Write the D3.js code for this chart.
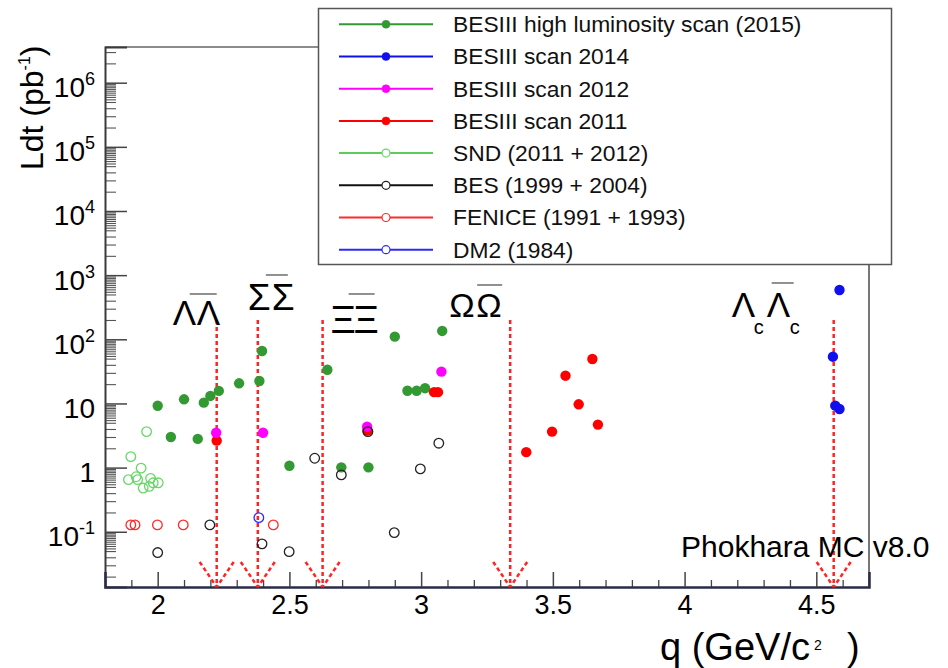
<!DOCTYPE html>
<html>
<head>
<meta charset="utf-8">
<script src="https://cdn.jsdelivr.net/npm/d3@7"></script>
<style>
  body { margin: 0; background: #fff; }
  svg { display: block; font-family: "Liberation Sans", Arial, Helvetica, sans-serif; }
</style>
</head>
<body>
<svg id="chart" width="948" height="668"></svg>
<script>
// ---- integrated luminosity (pb^-1) versus centre-of-mass energy q (GeV) ----

// BESIII high luminosity scan (2015)
const bes2015Q = [2.0, 2.05, 2.1, 2.152, 2.175, 2.2, 2.232, 2.309, 2.386, 2.396, 2.5, 2.644, 2.697, 2.8, 2.9, 2.948, 2.983, 3.015, 3.08];
const bes2015L = [9.2, 3.0, 11.6, 2.8, 10.3, 13.1, 15.7, 20.6, 22.4, 65.7, 1.07, 33.5, 1.01, 1.01, 110, 15.8, 15.8, 17.3, 135];

// BESIII scan 2014
const bes2014Q = [4.588, 4.563, 4.572, 4.588];
const bes2014L = [586, 53.6, 9.25, 8.2];

// BESIII scan 2012
const bes2012Q = [2.222, 2.4, 2.795, 3.077];
const bes2012L = [3.5, 3.5, 4.35, 31.3];

// BESIII scan 2011
const bes2011Q = [2.224, 2.796, 3.049, 3.064, 3.399, 3.497, 3.548, 3.598, 3.650, 3.671];
const bes2011L = [2.63, 3.77, 15.0, 15.0, 1.74, 3.64, 27.1, 9.7, 49.3, 4.68];

// SND (2011 + 2012)
const sndQ = [1.898, 1.937, 1.889, 1.918, 1.924, 1.945, 1.973, 1.968, 1.983, 2.002, 1.958];
const sndL = [1.48, 0.98, 0.65, 0.72, 0.65, 0.48, 0.68, 0.51, 0.58, 0.58, 3.64];

// BES (1999 + 2004)
const besQ = [2.0, 2.198, 2.396, 2.499, 2.596, 2.697, 2.798, 2.898, 2.997, 3.067];
const besL = [0.0474, 0.128, 0.0648, 0.049, 1.4, 0.77, 3.64, 0.097, 0.955, 2.4];

// FENICE (1991 + 1993)
const feniceQ = [1.898, 1.914, 1.999, 2.097, 2.439];
const feniceL = [0.128, 0.128, 0.128, 0.128, 0.128];

// DM2 (1984)
const dm2Q = [2.384];
const dm2L = [0.166];

// baryon-pair production thresholds
const thresholdQ = [2.224, 2.380, 2.626, 3.338, 4.566];
const thresholdTop = 200;

// axis ticks
const yMajorTicks = [0.1, 1, 10, 100, 1e3, 1e4, 1e5, 1e6];
const yMinorMantissas = [2, 3, 4, 5, 5.5, 6, 6.5, 7, 7.5, 8, 8.5, 9, 9.5];
const xMajorTicks = [2, 2.5, 3, 3.5, 4, 4.5];

// legend entries
const legendLabels = [
  "BESIII high luminosity scan (2015)",
  "BESIII scan 2014",
  "BESIII scan 2012",
  "BESIII scan 2011",
  "SND (2011 + 2012)",
  "BES (1999 + 2004)",
  "FENICE (1991 + 1993)",
  "DM2 (1984)"
];

// ---- drawing ----
const svg = d3.select("#chart");
const W = 948, H = 668;
svg.append("rect").attr("width", W).attr("height", H).attr("fill", "#fff");

const x = d3.scaleLinear().domain([1.8, 4.7]).range([105, 869]);
const y = d3.scaleLog().domain([0.01377, 3.6e6]).range([587, 47]);

// frame: top and right edges
svg.append("line").attr("x1", x.range()[0]).attr("x2", x.range()[1])
  .attr("y1", y.range()[1]).attr("y2", y.range()[1])
  .attr("stroke", "#666").attr("stroke-width", 1.5);
svg.append("line").attr("x1", x.range()[1]).attr("x2", x.range()[1])
  .attr("y1", y.range()[1]).attr("y2", y.range()[0])
  .attr("stroke", "#777").attr("stroke-width", 2);

// y minor ticks
const yMinor = [];
for (let e = -2; e <= 6; e++) {
  yMinorMantissas.forEach(m => {
    const v = m * Math.pow(10, e);
    if (v >= y.domain()[0] && v <= y.domain()[1]) yMinor.push(v);
  });
}
const gyMinor = svg.append("g").attr("transform", `translate(${x.range()[0]},0)`)
  .call(d3.axisLeft(y).tickValues(yMinor).tickSize(-11).tickFormat(""));
gyMinor.select(".domain").remove();
gyMinor.selectAll("line").attr("stroke", "#555").attr("stroke-width", 1.1);

// y major ticks + labels
const gy = svg.append("g").attr("transform", `translate(${x.range()[0]},0)`)
  .call(d3.axisLeft(y).tickValues(yMajorTicks).tickSize(-22).tickPadding(10).tickFormat(""));
gy.select(".domain").attr("stroke", "#3a3a3a").attr("stroke-width", 2);
gy.selectAll(".tick line").attr("stroke", "#444").attr("stroke-width", 1.5);
gy.selectAll(".tick text").each(function(d) {
  const t = d3.select(this);
  const e = Math.round(Math.log10(d));
  t.attr("font-size", 28).attr("fill", "#000").attr("dy", "0.5em")
    .attr("font-family", '"Liberation Sans", Arial, sans-serif');
  if (e === 0) t.text("1");
  else if (e === 1) t.text("10");
  else {
    t.append("tspan").text("10");
    t.append("tspan").attr("font-size", 18).attr("dy", -12).text(e < 0 ? "-" + (-e) : String(e));
  }
});

// x minor ticks
const xMinor = d3.range(19, 47).map(k => k / 10).filter(v => Math.abs(v * 2 - Math.round(v * 2)) > 1e-6);
const gxMinor = svg.append("g").attr("transform", `translate(0,${y.range()[0]})`)
  .call(d3.axisBottom(x).tickValues(xMinor).tickSize(-7).tickFormat(""));
gxMinor.select(".domain").remove();
gxMinor.selectAll("line").attr("stroke", "#444").attr("stroke-width", 1.3);

// x major ticks + labels
const gx = svg.append("g").attr("transform", `translate(0,${y.range()[0]})`)
  .call(d3.axisBottom(x).tickValues(xMajorTicks).tickSize(-15).tickPadding(8)
    .tickFormat(v => Number.isInteger(v) ? String(v) : v.toFixed(1)));
gx.select(".domain").attr("stroke", "#2b2b48").attr("stroke-width", 2.5);
gx.selectAll(".tick line").attr("stroke", "#444").attr("stroke-width", 1.5);
gx.selectAll(".tick text").attr("font-size", 27).attr("fill", "#000")
  .attr("font-family", '"Liberation Sans", Arial, sans-serif');

// axis titles
const yt = svg.append("text").attr("transform", "translate(43,170) rotate(-90)")
  .attr("font-size", 32).attr("fill", "#000");
yt.append("tspan").text("Ldt (pb");
yt.append("tspan").attr("font-size", 16).attr("dy", -13).text("-1");
yt.append("tspan").attr("dy", 13).text(")");

const xt = svg.append("text").attr("x", 660).attr("y", 660).attr("font-size", 38).attr("fill", "#000");
xt.append("tspan").text("q (GeV/c");
xt.append("tspan").attr("font-size", 14).attr("dy", -10).attr("dx", 4).text("2");
xt.append("tspan").attr("dy", 10).attr("x", 847).text(")");

// threshold arrows (dashed red)
const arrowColor = "#ff2424";
const gArr = svg.append("g").attr("stroke", arrowColor).attr("stroke-width", 2.5)
  .attr("stroke-dasharray", "4,3").attr("fill", "none");
thresholdQ.forEach(q => {
  const px = x(q), top = y(thresholdTop), bot = y.range()[0];
  gArr.append("line").attr("x1", px).attr("x2", px).attr("y1", top).attr("y2", bot);
  gArr.append("line").attr("x1", px - 17).attr("y1", bot - 25).attr("x2", px).attr("y2", bot);
  gArr.append("line").attr("x1", px + 17).attr("y1", bot - 25).attr("x2", px).attr("y2", bot);
});

// baryon pair labels: glyphs placed relative to each threshold arrow
const pairLabels = [
  { i: 0, size: 35, base: 5, glyphs: [["Λ", -44], ["Λ", -20]], bar: [-27, 0, -26] },
  { i: 1, size: 37, base: -10, glyphs: [["Σ", -10], ["Σ", 14]], bar: [8, 30, -45] },
  { i: 2, size: 39, base: 13, glyphs: [["Ξ", 8], ["Ξ", 31]], bar: [26, 52, -26] },
  { i: 3, size: 34, base: -3, glyphs: [["Ω", -61], ["Ω", -34]], bar: [-33, -8, -35] },
  { i: 4, size: 35, base: -3, glyphs: [["Λ", -102], ["Λ", -67]], subs: [["c", -80], ["c", -44]], bar: [-62, -40, -37] }
];
pairLabels.forEach(lb => {
  const px = x(thresholdQ[lb.i]), top = y(thresholdTop);
  lb.glyphs.forEach(([g, dx]) => {
    svg.append("text").attr("x", px + dx).attr("y", top + lb.base)
      .attr("font-size", lb.size).attr("fill", "#000").text(g);
  });
  (lb.subs || []).forEach(([s, dx]) => {
    svg.append("text").attr("x", px + dx).attr("y", top + lb.base + 17)
      .attr("font-size", 20).attr("fill", "#000").text(s);
  });
  svg.append("line").attr("x1", px + lb.bar[0]).attr("x2", px + lb.bar[1])
    .attr("y1", top + lb.bar[2]).attr("y2", top + lb.bar[2])
    .attr("stroke", "#555").attr("stroke-width", 1.3);
});

// data series
const series = [
  { q: bes2015Q, L: bes2015L, color: "#339933", line: "#339933", filled: true },
  { q: bes2014Q, L: bes2014L, color: "#1010ee", line: "#1010ee", filled: true },
  { q: bes2012Q, L: bes2012L, color: "#ff00ff", line: "#ff00ff", filled: true },
  { q: bes2011Q, L: bes2011L, color: "#ff0000", line: "#ff0000", filled: true },
  { q: sndQ, L: sndL, color: "#6ad66a", line: "#5ccc5c", filled: false },
  { q: besQ, L: besL, color: "#222222", line: "#111111", filled: false },
  { q: feniceQ, L: feniceL, color: "#ff2a2a", line: "#ff2a2a", filled: false },
  { q: dm2Q, L: dm2L, color: "#2b2bff", line: "#2b2bee", filled: false }
];
// draw order: 2015, 2011, 2012, 2014, then open markers
[0, 3, 2, 1, 4, 5, 6, 7].forEach(si => {
  const s = series[si];
  svg.append("g").selectAll("circle")
    .data(s.q.map((q, k) => [q, s.L[k]]))
    .join("circle")
    .attr("cx", d => x(d[0])).attr("cy", d => y(d[1]))
    .attr("r", s.filled ? 5.2 : 4.8)
    .attr("fill", s.filled ? s.color : "none")
    .attr("stroke", s.filled ? "none" : s.color)
    .attr("stroke-width", s.filled ? 0 : 1.3);
});

// legend
const lg = svg.append("g");
lg.append("rect").attr("x", 318.5).attr("y", 8.5).attr("width", 573).attr("height", 256)
  .attr("fill", "#fff").attr("stroke", "#555").attr("stroke-width", 1.5);
legendLabels.forEach((lab, k) => {
  const s = series[k];
  const cy = 24.3 + k * 32.2;
  lg.append("line").attr("x1", 339).attr("x2", 433).attr("y1", cy).attr("y2", cy)
    .attr("stroke", s.line).attr("stroke-width", 2);
  lg.append("circle").attr("cx", 386).attr("cy", cy).attr("r", 4)
    .attr("fill", s.filled ? s.color : "#fff")
    .attr("stroke", s.color).attr("stroke-width", s.filled ? 0.5 : 1.2);
  lg.append("text").attr("x", 453).attr("y", cy + 7.8).attr("font-size", 22.8)
    .attr("fill", "#111").text(lab);
});

// generator note
svg.append("text").attr("x", 681).attr("y", 557).attr("font-size", 30).attr("fill", "#000")
  .text("Phokhara MC v8.0");
</script>
</body>
</html>
